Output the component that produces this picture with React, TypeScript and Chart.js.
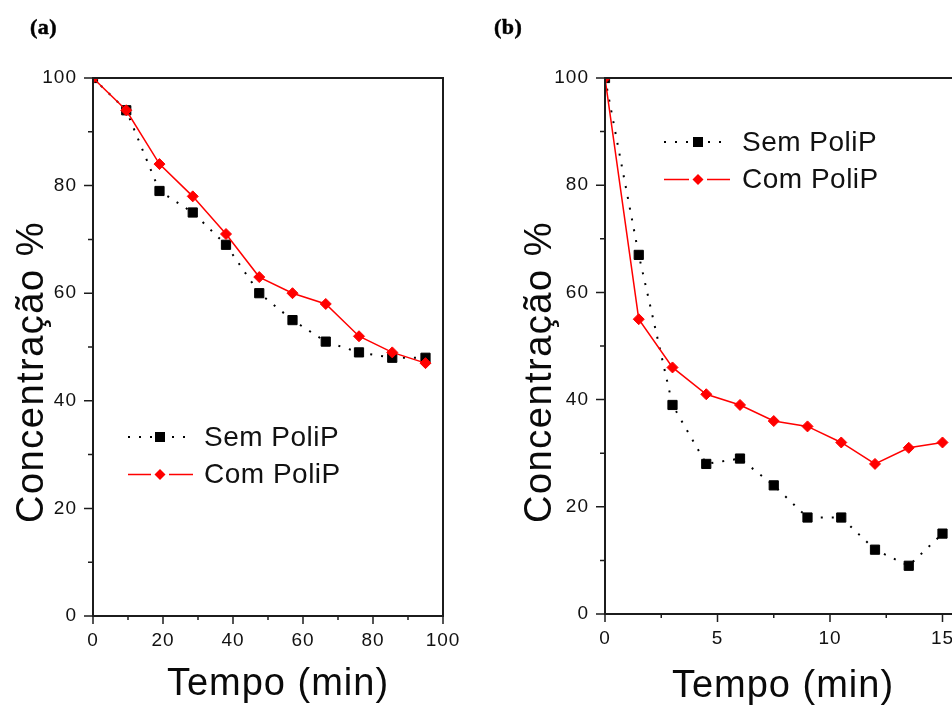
import React, { useEffect, useRef } from 'react';
import { Chart, registerables } from 'chart.js';

Chart.register(...registerables);

// ---------- data ----------
const seriesLabels = ['Sem PoliP', 'Com PoliP'];
const xTitle = 'Tempo (min)';
const yTitle = 'Concentração %';

const timeA = [0, 9.5, 19, 28.5, 38, 47.5, 57, 66.5, 76, 85.5, 95];
const semA = [100, 94, 79, 75, 69, 60, 55, 51, 49, 48, 48];
const comA = [100, 94, 84, 78, 71, 63, 60, 58, 52, 49, 47];

const timeB = [0, 1.5, 3, 4.5, 6, 7.5, 9, 10.5, 12, 13.5, 15];
const semB = [100, 67, 39, 28, 29, 24, 18, 18, 12, 9, 15];
const comB = [100, 55, 46, 41, 39, 36, 35, 32, 28, 31, 32];

const yTicks = [0, 20, 40, 60, 80, 100];
const yMinor = [10, 30, 50, 70, 90];
const xTicksA = [0, 20, 40, 60, 80, 100];
const xMinorA = [10, 30, 50, 70, 90];
const xTicksB = [0, 5, 10, 15];
const xMinorB = [2.5, 7.5, 12.5];

const FONT = '"Liberation Sans", Arial, Helvetica, sans-serif';

type PanelCfg = {
  x: number[];
  sem: number[];
  com: number[];
  xMax: number;
  xTicks: number[];
  xMinor: number[];
  canvasLeft: number;
  canvasWidth: number;
  yAxisWidth: number;
  padRight: number;
  xAxisHeight: number;
  xTitleX: number;
  xTitleY: number;
  yTitleX: number;
  yTitleY: number;
  legX0: number;
  legX1: number;
  legMX: number;
  legTX: number;
  legY: number;
};

const panelA: PanelCfg = {
  x: timeA, sem: semA, com: comA, xMax: 100, xTicks: xTicksA, xMinor: xMinorA,
  canvasLeft: 0, canvasWidth: 476, yAxisWidth: 93, padRight: 33, xAxisHeight: 90,
  xTitleX: 278, xTitleY: 695, yTitleX: 43, yTitleY: 372,
  legX0: 128, legX1: 193, legMX: 160, legTX: 204, legY: 437,
};

const panelB: PanelCfg = {
  x: timeB, sem: semB, com: comB, xMax: 16, xTicks: xTicksB, xMinor: xMinorB,
  canvasLeft: 476, canvasWidth: 520, yAxisWidth: 129, padRight: 31, xAxisHeight: 92,
  xTitleX: 307, xTitleY: 697, yTitleX: 75, yTitleY: 372,
  legX0: 188, legX1: 254, legMX: 222, legTX: 266, legY: 142,
};

function drawMarker(ctx: CanvasRenderingContext2D, style: string, x: number, y: number, color: string) {
  ctx.fillStyle = color;
  ctx.beginPath();
  if (style === 'rect') {
    ctx.rect(x - 5, y - 5, 10, 10);
  } else {
    ctx.moveTo(x - 5.5, y);
    ctx.lineTo(x, y - 5.5);
    ctx.lineTo(x + 5.5, y);
    ctx.lineTo(x, y + 5.5);
    ctx.closePath();
  }
  ctx.fill();
}

const decorPlugin = {
  id: 'decor',
  beforeDraw(chart: any) {
    (chart.ctx as any).letterSpacing = '1px';
  },
  afterDraw(chart: any, _args: any, opts: any) {
    const ctx: CanvasRenderingContext2D = chart.ctx;
    const a = chart.chartArea;
    const xs = chart.scales.x;
    const ys = chart.scales.y;
    ctx.save();
    // frame
    ctx.strokeStyle = '#1c1c1c';
    ctx.lineWidth = 2;
    ctx.setLineDash([]);
    ctx.strokeRect(a.left, a.top, a.right - a.left, a.bottom - a.top);
    // ticks
    ctx.lineWidth = 1.5;
    ctx.beginPath();
    for (const v of yTicks) {
      const p = ys.getPixelForValue(v);
      ctx.moveTo(a.left - 9, p); ctx.lineTo(a.left, p);
    }
    for (const v of yMinor) {
      const p = ys.getPixelForValue(v);
      ctx.moveTo(a.left - 5, p); ctx.lineTo(a.left, p);
    }
    for (const v of opts.xTicks) {
      const p = xs.getPixelForValue(v);
      ctx.moveTo(p, a.bottom); ctx.lineTo(p, a.bottom + 8);
    }
    for (const v of opts.xMinor) {
      const p = xs.getPixelForValue(v);
      ctx.moveTo(p, a.bottom); ctx.lineTo(p, a.bottom + 4);
    }
    ctx.stroke();

    // axis titles
    ctx.fillStyle = '#0a0a0a';
    ctx.font = `38px ${FONT}`;
    (ctx as any).letterSpacing = '1px';
    ctx.textAlign = 'center';
    ctx.textBaseline = 'alphabetic';
    ctx.fillText(xTitle, opts.xTitleX, opts.xTitleY);
    ctx.save();
    ctx.translate(opts.yTitleX, opts.yTitleY);
    ctx.rotate(-Math.PI / 2);
    (ctx as any).letterSpacing = '1.5px';
    ctx.fillText(yTitle, 0, 0);
    ctx.restore();

    // legend
    const ds = chart.data.datasets;
    ds.forEach((d: any, i: number) => {
      const y = opts.legY + i * 37.5;
      ctx.strokeStyle = d.borderColor;
      ctx.lineWidth = d.borderWidth;
      ctx.setLineDash(d.borderDash || []);
      ctx.beginPath();
      if (d.borderDash && d.borderDash.length) {
        ctx.moveTo(opts.legX0, y); ctx.lineTo(opts.legX1, y);
      } else {
        ctx.moveTo(opts.legX0, y); ctx.lineTo(opts.legMX - 9, y);
        ctx.moveTo(opts.legMX + 9, y); ctx.lineTo(opts.legX1, y);
      }
      ctx.stroke();
      ctx.setLineDash([]);
      drawMarker(ctx, d.pointStyle, opts.legMX, y, d.pointBackgroundColor);
      ctx.fillStyle = '#111111';
      ctx.font = `28px ${FONT}`;
      (ctx as any).letterSpacing = '0.5px';
      ctx.textAlign = 'left';
      ctx.textBaseline = 'middle';
      ctx.fillText(d.label, opts.legTX, y + 1);
    });
    ctx.restore();
  },
};

function makeConfig(p: PanelCfg): any {
  return {
    type: 'line',
    data: {
      datasets: [
        {
          label: seriesLabels[0],
          data: p.x.map((x, i) => ({ x, y: p.sem[i] })),
          borderColor: '#000000',
          backgroundColor: '#000000',
          borderWidth: 2,
          borderDash: [2, 9],
          pointStyle: 'rect',
          pointRadius: 6.5,
          pointHoverRadius: 6.5,
          pointBorderWidth: 1,
          pointBorderColor: '#000000',
          pointBackgroundColor: '#000000',
          tension: 0,
          order: 2,
        },
        {
          label: seriesLabels[1],
          data: p.x.map((x, i) => ({ x, y: p.com[i] })),
          borderColor: '#ff0000',
          backgroundColor: '#ff0000',
          borderWidth: 1.5,
          pointStyle: 'rectRot',
          pointRadius: 5.5,
          pointHoverRadius: 5.5,
          pointBorderWidth: 1,
          pointBorderColor: '#ff0000',
          pointBackgroundColor: '#ff0000',
          tension: 0,
          order: 1,
        },
      ],
    },
    options: {
      animation: false,
      responsive: false,
      devicePixelRatio: 1,
      events: [],
      layout: { padding: { top: 78, right: p.padRight, left: 0, bottom: 0 } },
      plugins: {
        legend: { display: false },
        tooltip: { enabled: false },
        title: { display: false },
        decor: {
          xTicks: p.xTicks, xMinor: p.xMinor,
          xTitleX: p.xTitleX, xTitleY: p.xTitleY, yTitleX: p.yTitleX, yTitleY: p.yTitleY,
          legX0: p.legX0, legX1: p.legX1, legMX: p.legMX, legTX: p.legTX, legY: p.legY,
        },
      },
      scales: {
        x: {
          type: 'linear',
          min: 0,
          max: p.xMax,
          grid: { display: false, drawTicks: false },
          border: { display: false },
          afterBuildTicks: (s: any) => { s.ticks = p.xTicks.map((v) => ({ value: v })); },
          afterFit: (s: any) => { s.height = p.xAxisHeight; },
          ticks: {
            padding: 13, color: '#111111', font: { family: FONT, size: 19 },
            maxRotation: 0, autoSkip: false, includeBounds: false,
            callback: (v: any) => String(v),
          },
        },
        y: {
          type: 'linear',
          min: 0,
          max: 100,
          grid: { display: false, drawTicks: false },
          border: { display: false },
          afterBuildTicks: (s: any) => { s.ticks = yTicks.map((v) => ({ value: v })); },
          afterFit: (s: any) => { s.width = p.yAxisWidth; },
          ticks: {
            padding: 16, color: '#111111', font: { family: FONT, size: 19 },
            autoSkip: false, callback: (v: any) => String(v),
          },
        },
      },
    },
    plugins: [decorPlugin],
  };
}

function Panel({ cfg }: { cfg: PanelCfg }) {
  const ref = useRef<HTMLCanvasElement | null>(null);
  useEffect(() => {
    if (!ref.current) return;
    const chart = new Chart(ref.current, makeConfig(cfg));
    return () => chart.destroy();
  }, [cfg]);
  return (
    <canvas
      ref={ref}
      width={cfg.canvasWidth}
      height={706}
      style={{ position: 'absolute', left: cfg.canvasLeft, top: 0, width: cfg.canvasWidth, height: 706 }}
    />
  );
}

const labelStyle: React.CSSProperties = {
  position: 'absolute',
  top: 15,
  fontFamily: '"Liberation Serif", "Times New Roman", serif',
  fontWeight: 700,
  fontSize: 22,
  letterSpacing: '0.5px',
  lineHeight: '24px',
  color: '#000',
  WebkitTextStroke: '0.5px #000',
};

export default function App() {
  return (
    <div
      style={{
        position: 'absolute', left: 0, top: 0, width: 952, height: 706,
        overflow: 'hidden', background: '#ffffff',
      }}
    >
      <Panel cfg={panelA} />
      <Panel cfg={panelB} />
      <div style={{ ...labelStyle, left: 30 }}>(a)</div>
      <div style={{ ...labelStyle, left: 494 }}>(b)</div>
    </div>
  );
}
